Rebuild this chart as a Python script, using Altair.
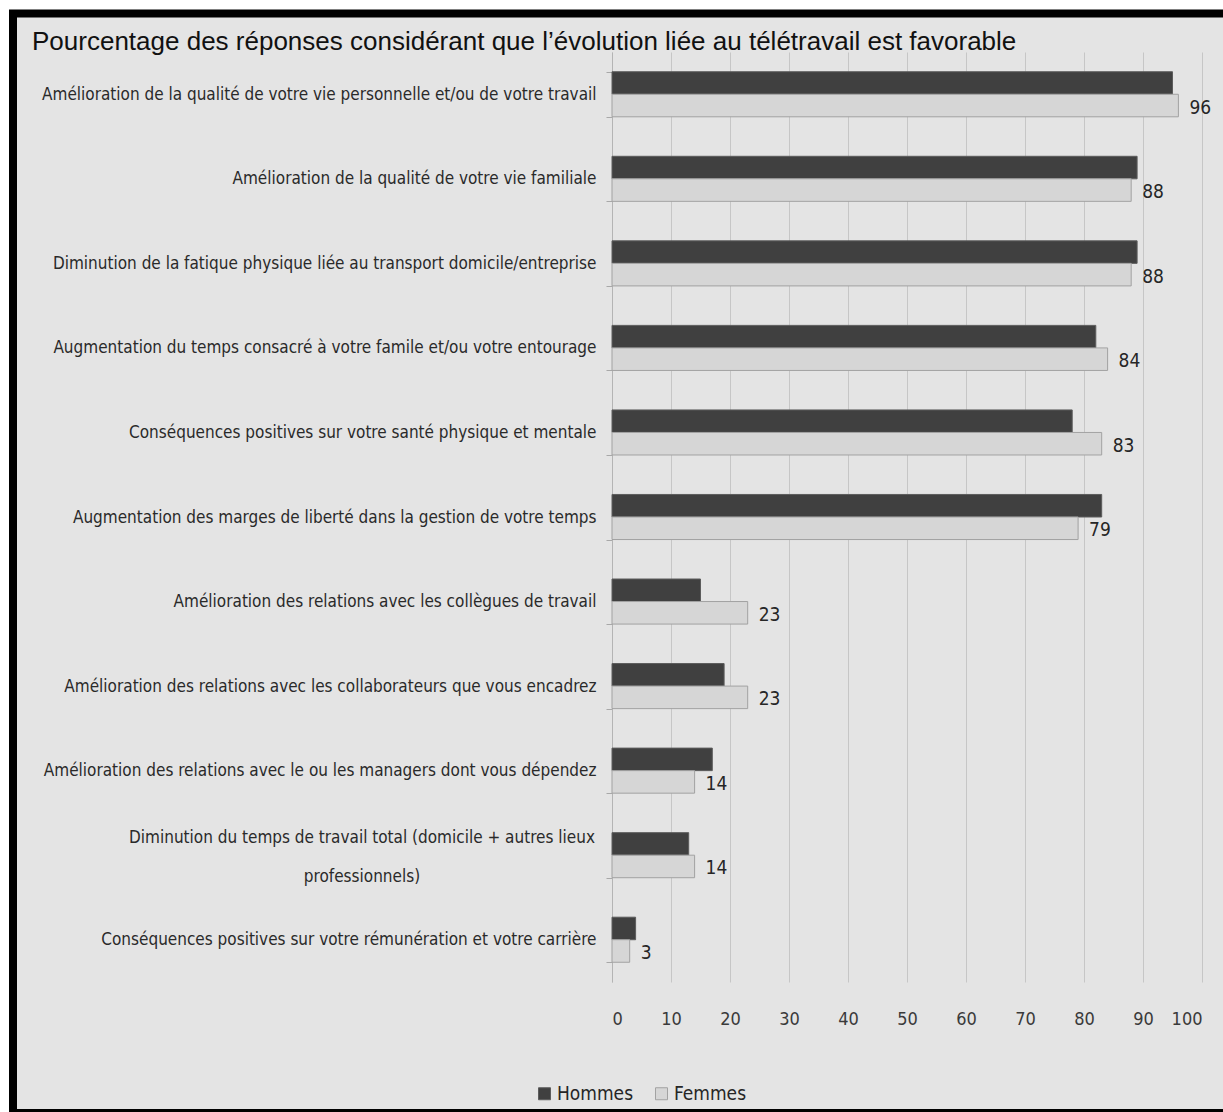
import altair as alt
import pandas as pd

categories = [
    "Amélioration de la qualité de votre vie personnelle et/ou de votre travail",
    "Amélioration de la qualité de votre vie familiale",
    "Diminution de la fatique physique liée au transport domicile/entreprise",
    "Augmentation du temps consacré à votre famile et/ou votre entourage",
    "Conséquences positives sur votre santé physique et mentale",
    "Augmentation des marges de liberté dans la gestion de votre temps",
    "Amélioration des relations avec les collègues de travail",
    "Amélioration des relations avec les collaborateurs que vous encadrez",
    "Amélioration des relations avec le ou les managers dont vous dépendez",
    "Diminution du temps de travail total (domicile + autres lieux|professionnels)",
    "Conséquences positives sur votre rémunération et votre carrière",
]
hommes = [95, 89, 89, 82, 78, 83, 15, 19, 17, 13, 4]
femmes = [96, 88, 88, 84, 83, 79, 23, 23, 14, 14, 3]
series = ["Hommes", "Femmes"]
x_ticks = [0, 10, 20, 30, 40, 50, 60, 70, 80, 90, 100]
title_text = "Pourcentage des réponses considérant que l\u2019évolution liée au télétravail est favorable"

rows = []
for c, h, f in zip(categories, hommes, femmes):
    rows.append({"cat": c, "serie": "Hommes", "val": h})
    rows.append({"cat": c, "serie": "Femmes", "val": f})
df = pd.DataFrame(rows)

NARROW = "Liberation Sans Narrow, Arial Narrow, DejaVu Sans Condensed, Liberation Sans"
BG = "#e4e4e4"

y_enc = alt.Y(
    "cat:N", sort=categories, title=None,
    scale=alt.Scale(paddingInner=0.467, paddingOuter=0.2335),
    axis=alt.Axis(
        labelExpr="indexof(datum.label, '|') >= 0 ? '' : datum.label",
        labelFont=NARROW, labelFontSize=17, labelColor="#2a2a2a",
        labelPadding=10, labelLimit=700,
        tickBand="extent", tickSize=6, tickColor="#a8a8a8",
        domainColor="#b4b4b4", grid=False,
    ),
)
yoff = alt.YOffset("serie:N", sort=series, scale=alt.Scale(domain=series))
x_enc = alt.X(
    "val:Q", title=None,
    scale=alt.Scale(domain=[0, 100], nice=False),
    axis=alt.Axis(
        values=x_ticks, grid=True, gridColor="#c6c6c6", gridWidth=1,
        domain=False, ticks=False, labelPadding=28,
        labelFont=NARROW, labelFontSize=18, labelColor="#3a3a3a",
    ),
)

bars = alt.Chart(df).mark_bar(strokeWidth=1).encode(
    y=y_enc,
    yOffset=yoff,
    x=x_enc,
    color=alt.Color(
        "serie:N", sort=series,
        scale=alt.Scale(domain=series, range=["#404040", "#d6d6d6"]),
        legend=alt.Legend(
            title=None, orient="none", direction="horizontal",
            legendX=-77, legendY=1032, padding=0,
            symbolType="square", symbolSize=144,
            symbolStrokeColor="#8a8a8a", symbolStrokeWidth=1,
            labelFont=NARROW, labelFontSize=19, labelColor="#262626",
            labelOffset=3, columnPadding=18,
        ),
    ),
    stroke=alt.Stroke(
        "serie:N", sort=series,
        scale=alt.Scale(domain=series, range=["#5c5c5c", "#a2a2a2"]),
        legend=None,
    ),
)

labels = alt.Chart(df).transform_filter(
    alt.datum.serie == "Femmes"
).mark_text(
    align="left", baseline="middle", dx=11, dy=2,
    font=NARROW, fontSize=19, color="#262626",
).encode(
    y=alt.Y("cat:N", sort=categories),
    yOffset=alt.YOffset("serie:N", sort=series),
    x="val:Q",
    text="val:Q",
)

# two-line category label, centred block as in the original
wrapped = alt.Chart(df).transform_filter(
    "indexof(datum.cat, '|') >= 0 && datum.serie == 'Hommes'"
).mark_text(
    align="center", baseline="middle", lineBreak="|", lineHeight=39, dy=-17,
    font=NARROW, fontSize=17, color="#2a2a2a",
).encode(
    y=alt.Y("cat:N", sort=categories),
    x=alt.value(-250),
    text="cat:N",
)

title_df = pd.DataFrame({"t": [title_text]})
title = alt.Chart(title_df).mark_text(
    align="left", baseline="alphabetic",
    font="Liberation Sans", fontSize=26, color="#111111",
).encode(
    x=alt.value(-580), y=alt.value(-2), text="t:N",
)

frame_df = pd.DataFrame({"k": [0]})
white_edge = alt.Chart(frame_df).mark_rect(
    fillOpacity=0, stroke="white", strokeWidth=20
).encode(
    x=alt.value(-613), x2=alt.value(700),
    y=alt.value(-52), y2=alt.value(1200),
)
black_frame = alt.Chart(frame_df).mark_rect(
    fillOpacity=0, stroke="black", strokeWidth=8
).encode(
    x=alt.value(-599), x2=alt.value(640),
    y=alt.value(-38.5), y2=alt.value(1061),
)

chart = alt.layer(bars, labels, wrapped, title, white_edge, black_frame).properties(
    width=590,
    height=930,
    padding={"left": 612, "top": 52, "right": 21, "bottom": 130},
    autosize=alt.AutoSizeParams(type="none"),
    background=BG,
).configure_view(stroke=None)

chart.save("out.html", embed_options={"renderer": "svg", "actions": False})
